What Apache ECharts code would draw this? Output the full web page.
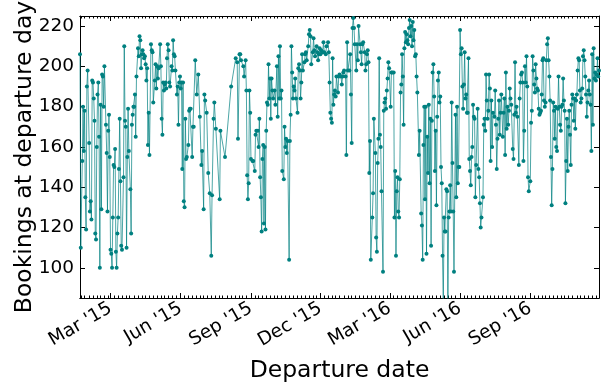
<!DOCTYPE html>
<html><head><meta charset="utf-8">
<script src="https://cdn.jsdelivr.net/npm/echarts@6/dist/echarts.min.js"></script>
<style>html,body{margin:0;padding:0;background:#fff}#c{width:603px;height:383px}</style>
</head><body><div id="c"></div>
<script>
// Daily bookings from startDate (null = no departure that day)
const startDate = '2015-01-20';
const bookings = [
206,110,null,153,180,158,178,135,119,190,
198,null,162,128,133,124,193,192,184,173,
117,114,160,186,192,165,100,181,129,196,
195,180,200,null,171,157,128,168,176,155,
109,107,100,125,151,150,159,108,100,117,
125,149,174,143,111,109,null,145,210,173,
170,110,155,179,158,null,139,117,171,176,
180,180,186,165,195,null,209,205,215,213,
199,206,208,206,204,205,201,193,199,161,
177,156,null,211,208,207,182,null,193,201,
189,200,194,199,null,211,200,174,166,192,
188,191,192,189,204,211,208,192,190,null,
200,198,213,206,205,198,null,186,190,171,
192,195,189,192,149,192,133,130,174,154,
155,null,161,178,179,179,null,155,170,170,
null,203,null,186,null,196,null,175,null,151,
158,null,129,186,183,null,177,null,147,null,
137,null,106,136,null,174,182,null,169,null,
null,null,null,134,168,null,null,null,null,null,
155,null,null,null,null,null,null,null,190,null,
null,null,null,null,204,null,202,164,null,206,
206,203,null,null,200,195,null,203,188,146,
134,142,188,177,154,null,153,153,null,148,
166,168,null,168,160,174,145,135,118,154,
161,122,160,119,168,182,181,201,184,194,
174,194,188,184,null,188,181,null,200,175,
205,184,210,184,188,148,null,144,170,160,
164,157,163,null,104,163,176,210,197,184,
190,188,194,184,null,177,199,201,198,184,
192,206,198,null,202,206,207,203,null,210,
216,218,215,201,null,207,214,208,205,null,
210,207,203,206,209,206,208,null,207,212,
207,null,206,210,null,212,207,192,177,174,
172,204,181,186,188,185,195,null,187,195,
196,null,195,191,195,197,198,null,195,156,
212,198,null,198,206,186,162,219,224,219,
211,null,198,211,203,220,null,211,207,201,
211,212,null,207,198,201,206,208,202,147,
163,104,null,125,137,174,null,157,115,108,
152,164,204,166,160,138,null,98,178,182,
184,179,188,194,202,199,null,180,197,197,
null,197,125,148,106,138,145,128,125,144,
187,191,206,195,171,209,217,212,216,213,
211,219,223,215,220,210,222,213,218,205,
206,195,187,null,156,168,null,127,121,104,
161,180,134,180,107,165,147,181,142,174,
111,173,197,201,185,148,168,131,175,193,
197,182,185,150,142,106,82,125,118,118,
139,138,82,125,128,141,128,182,152,128,
98,null,176,135,180,142,150,150,218,206,
209,190,179,191,207,184,186,177,177,204,
154,148,141,155,160,181,175,174,135,151,
null,179,149,145,132,120,125,null,135,171,
174,168,196,183,174,178,196,189,153,183,
160,177,null,175,188,171,149,164,174,183,
166,177,186,null,165,177,184,156,197,169,
180,171,178,189,184,181,null,159,154,176,
202,177,180,175,null,151,184,192,196,197,
192,153,168,200,192,205,190,145,138,null,
143,172,178,205,198,191,187,201,194,189,
188,179,176,177,178,186,203,204,183,180,
182,203,211,214,203,195,183,155,131,149,
182,178,164,180,160,158,179,195,180,171,
168,180,181,194,183,178,132,153,174,148,
170,178,166,151,181,186,184,173,184,169,
183,186,198,204,203,188,182,184,189,205,
208,203,195,186,175,182,188,193,186,181,
158,206,171,209,194,197,193,196,204,195,198
];
const tickDates = ['2015-03-01','2015-06-01','2015-09-01','2015-12-01','2016-03-01','2016-06-01','2016-09-01'];
const tickLabels = ["Mar '15","Jun '15","Sep '15","Dec '15","Mar '16","Jun '16","Sep '16"];
const yTicks = [100,120,140,160,180,200,220];
const yMin = 85, yMax = 225;
const minorDaysOfMonth = [1,6,11,16,21,26];
const xTitle = 'Departure date';
const yTitle = 'Bookings at departure day';

const DAY = 86400000;
const t0 = Date.parse(startDate + 'T00:00:00Z');
const data = [];
bookings.forEach((v, i) => { if (v !== null) data.push([t0 + i * DAY, v]); });
const xMin = t0, xMax = t0 + (bookings.length - 1) * DAY;
const majorTs = tickDates.map(d => Date.parse(d + 'T00:00:00Z'));
const minorTs = [];
for (let y = 2015; y <= 2016; y++) for (let m = 0; m < 12; m++) for (const d of minorDaysOfMonth) {
  const t = Date.UTC(y, m, d);
  if (t > xMin && t < xMax && majorTs.indexOf(t) < 0) minorTs.push(t);
}
const FONT = 'DejaVu Sans';
function xAx(pos, ticks, len, labels) {
  return {
    type: 'value', position: pos, min: xMin, max: xMax, gridIndex: 0, scale: true,
    axisLine: { show: true, onZero: false, lineStyle: { color: '#000', width: 1 } },
    axisTick: { show: true, inside: true, length: len, customValues: ticks, lineStyle: { color: '#000', width: 1 } },
    axisLabel: labels ? {
      show: true, customValues: ticks, rotate: 30, margin: 9, fontSize: 18.5, fontFamily: FONT, color: '#000',
      formatter: v => { const k = majorTs.indexOf(+v); return k >= 0 ? tickLabels[k] : ''; }
    } : { show: false },
    splitLine: { show: false }, minorTick: { show: false }
  };
}
function yAx(pos, labels) {
  return {
    type: 'value', position: pos, min: yMin, max: yMax, gridIndex: 0,
    axisLine: { show: true, onZero: false, lineStyle: { color: '#000', width: 1 } },
    axisTick: { show: true, inside: true, length: 5, customValues: yTicks, lineStyle: { color: '#000', width: 1 } },
    axisLabel: labels ? { show: true, customValues: yTicks, margin: 6, fontSize: 18.5, fontFamily: FONT, color: '#000' } : { show: false },
    splitLine: { show: false }
  };
}
const xb = xAx('bottom', majorTs, 5, true);
xb.name = xTitle; xb.nameLocation = 'middle'; xb.nameGap = 61;
xb.nameTextStyle = { fontSize: 23.5, fontFamily: FONT, color: '#000' };
const yl = yAx('left', true);
yl.name = yTitle; yl.nameLocation = 'middle'; yl.nameGap = 43; yl.nameMoveOverlap = false;
yl.nameTextStyle = { fontSize: 23.5, fontFamily: FONT, color: '#000' };

const chart = echarts.init(document.getElementById('c'), null, { renderer: 'canvas' });
chart.setOption({
  animation: false,
  backgroundColor: '#fff',
  grid: { left: 80, right: 4, top: 16, bottom: 85, containLabel: false, outerBoundsMode: 'none' },
  xAxis: [xb, xAx('top', majorTs, 5, false), xAx('bottom', minorTs, 2.5, false), xAx('top', minorTs, 2.5, false)],
  yAxis: [yl, yAx('right', false)],
  series: [{
    type: 'line', xAxisIndex: 0, yAxisIndex: 0, data: data,
    symbol: 'circle', symbolSize: 4, showSymbol: true, showAllSymbol: true,
    itemStyle: { color: '#008080', borderWidth: 0 },
    lineStyle: { color: 'rgba(0,128,128,0.7)', width: 1 },
    emphasis: { disabled: true }, silent: true, clip: true
  }]
});
</script></body></html>
